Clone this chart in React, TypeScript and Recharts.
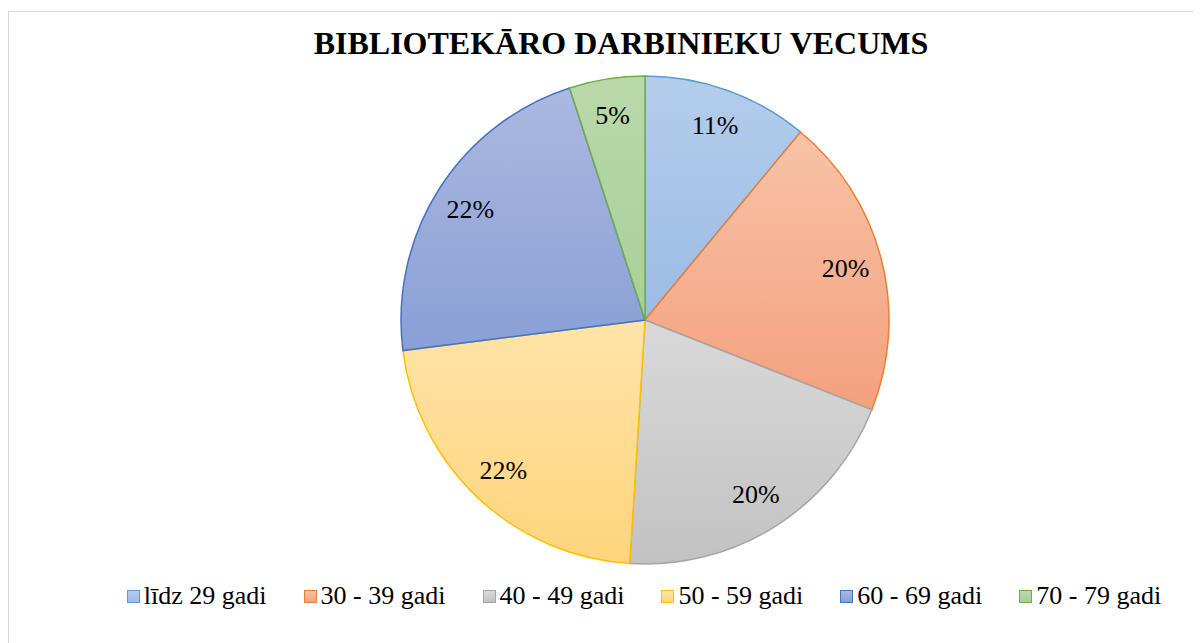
import React from "react";
import { PieChart, Pie, Cell, Legend } from "recharts";

const categories = ["līdz 29 gadi", "30 - 39 gadi", "40 - 49 gadi", "50 - 59 gadi", "60 - 69 gadi", "70 - 79 gadi"];
const values = [11, 20, 20, 22, 22, 5];
const labels = ["11%", "20%", "20%", "22%", "22%", "5%"];
const strokes = ["#5b9bd5", "#ed7d31", "#a5a5a5", "#ffc000", "#4472c4", "#70ad47"];
const topColors = ["#b4cdeb", "#f7c3a7", "#d9d9d9", "#ffe4a8", "#abb9e1", "#b9d9ab"];
const bottomColors = ["#9cbbe4", "#f4a07d", "#c2c2c2", "#ffd47c", "#899fd6", "#a8cf99"];

const data = categories.map((name, i) => ({ name, value: values[i], label: labels[i] }));

const FONT = "'Liberation Serif', serif";
const RAD = Math.PI / 180;

const css = `.chartbox, .chartbox * { font-family: 'Liberation Serif', serif !important; }`;

const renderLabel = (props: any) => {
  const { cx, cy, midAngle, index } = props;
  const r = 207;
  const x = cx + r * Math.cos(-midAngle * RAD);
  const y = cy + r * Math.sin(-midAngle * RAD);
  return (
    <text x={x} y={y} textAnchor="middle" dominantBaseline="central" fontFamily={FONT} fontSize={26} fill="#000">
      {labels[index]}
    </text>
  );
};

const renderLegend = () => (
  <div style={{ display: "flex", justifyContent: "center", alignItems: "center", gap: 37, fontFamily: FONT, fontSize: 26, color: "#000" }}>
    {categories.map((c, i) => (
      <div key={c} style={{ display: "flex", alignItems: "center" }}>
        <span
          style={{
            display: "inline-block",
            width: 11,
            height: 11,
            border: `1.5px solid ${strokes[i]}`,
            background: `linear-gradient(${topColors[i]}, ${bottomColors[i]})`,
            marginRight: 4,
          }}
        />
        <span>{c}</span>
      </div>
    ))}
  </div>
);

export default function App() {
  return (
    <div style={{ paddingTop: 3 }} className="chartbox">
      <style>{css}</style>
      <div style={{ position: "relative", width: 1193, height: 632, overflow: "hidden" }}>
        <div style={{ position: "absolute", left: 0, top: 0, width: 1226, height: 662, border: "1px solid #d9d9d9" }}>
          <div
            style={{
              position: "absolute",
              left: 0,
              top: 11,
              width: 1224,
              textAlign: "center",
              fontFamily: FONT,
              fontWeight: "bold",
              fontSize: 32,
              color: "#000",
              lineHeight: "40px",
            }}
          >
            BIBLIOTEKĀRO DARBINIEKU VECUMS
          </div>
          <PieChart width={1224} height={660}>
            <defs>
              {categories.map((c, i) => (
                <linearGradient key={c} id={`g${i}`} x1="0" y1="0" x2="0" y2="1">
                  <stop offset="0%" stopColor={topColors[i]} />
                  <stop offset="100%" stopColor={bottomColors[i]} />
                </linearGradient>
              ))}
            </defs>
            <Pie
              data={data}
              dataKey="value"
              nameKey="name"
              cx={631}
              cy={303}
              outerRadius={244}
              startAngle={90}
              endAngle={-270}
              label={renderLabel}
              labelLine={false}
              isAnimationActive={false}
            >
              {data.map((d, i) => (
                <Cell key={d.name} fill={`url(#g${i})`} stroke={strokes[i]} strokeWidth={1.5} />
              ))}
            </Pie>
            <Legend content={renderLegend} wrapperStyle={{ top: 569, left: 23, width: 1224, position: "absolute" }} />
          </PieChart>
        </div>
      </div>
    </div>
  );
}
